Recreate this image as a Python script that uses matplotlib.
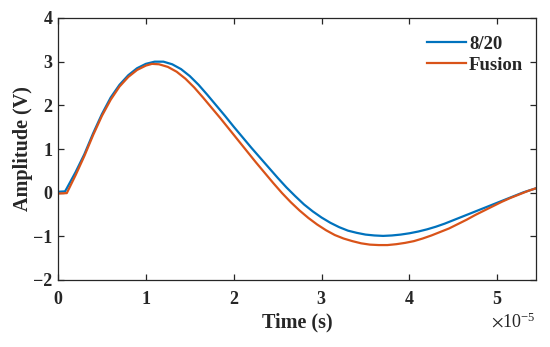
import matplotlib
matplotlib.use("Agg")
import matplotlib.pyplot as plt
import numpy as np
from matplotlib.ticker import ScalarFormatter

# time in units of 1e-5 s (converted to seconds below)
t_820 = [0, 0.08, 0.1, 0.2, 0.3, 0.4, 0.5, 0.6, 0.7, 0.8, 0.9, 1.0, 1.1, 1.2, 1.3, 1.4, 1.5,
         1.6, 1.7, 1.8, 1.9, 2.0, 2.1, 2.2, 2.3, 2.4, 2.5, 2.6, 2.7, 2.8, 2.9, 3.0, 3.1, 3.2,
         3.3, 3.4, 3.5, 3.6, 3.7, 3.8, 3.9, 4.0, 4.1, 4.2, 4.3, 4.4, 4.5, 4.6, 4.7, 4.8, 4.9,
         5.0, 5.1, 5.2, 5.3, 5.44]
v_820 = [0.02, 0.03, 0.10, 0.47, 0.88, 1.36, 1.80, 2.18, 2.47, 2.69, 2.85, 2.95, 3.00, 3.00,
         2.94, 2.83, 2.67, 2.47, 2.24, 2.00, 1.76, 1.51, 1.27, 1.03, 0.80, 0.57, 0.34, 0.12,
         -0.08, -0.27, -0.43, -0.57, -0.69, -0.79, -0.87, -0.92, -0.96, -0.98, -0.99, -0.98,
         -0.96, -0.93, -0.89, -0.84, -0.78, -0.71, -0.63, -0.55, -0.47, -0.39, -0.31, -0.23,
         -0.15, -0.07, 0.01, 0.10]

t_fus = [0, 0.1, 0.2, 0.3, 0.4, 0.5, 0.6, 0.7, 0.8, 0.9, 1.0, 1.07, 1.15, 1.25, 1.35, 1.45,
         1.55, 1.65, 1.75, 1.85, 1.95, 2.05, 2.15, 2.25, 2.35, 2.45, 2.55, 2.65, 2.75, 2.85,
         2.95, 3.05, 3.15, 3.25, 3.35, 3.45, 3.55, 3.65, 3.75, 3.85, 3.95, 4.05, 4.15, 4.25,
         4.35, 4.45, 4.55, 4.65, 4.75, 4.85, 4.95, 5.05, 5.15, 5.25, 5.35, 5.44]
v_fus = [-0.02, -0.01, 0.40, 0.84, 1.32, 1.76, 2.13, 2.43, 2.65, 2.81, 2.91, 2.95, 2.94, 2.88,
         2.77, 2.61, 2.41, 2.18, 1.94, 1.70, 1.45, 1.20, 0.95, 0.70, 0.46, 0.22, -0.01, -0.22,
         -0.41, -0.58, -0.73, -0.86, -0.97, -1.05, -1.11, -1.16, -1.19, -1.20, -1.20, -1.18,
         -1.15, -1.11, -1.05, -0.98, -0.90, -0.82, -0.72, -0.62, -0.51, -0.41, -0.31, -0.21,
         -0.12, -0.04, 0.04, 0.10]

labels = ["8/20", "Fusion"]
colors = ["#0072BD", "#D95319"]

plt.rcParams['font.family'] = ['Liberation Serif', 'DejaVu Serif']
plt.rcParams['mathtext.fontset'] = 'stix'

fig = plt.figure(figsize=(5.5, 3.47), dpi=100)
ax = fig.add_axes([58/550, 67/347, 478/550, 262/347])

ax.plot(np.array(t_820) * 1e-5, v_820, color=colors[0], lw=1.6, label=labels[0])
ax.plot(np.array(t_fus) * 1e-5, v_fus, color=colors[1], lw=1.6, label=labels[1])

ax.set_xlim(0, 5.44e-5)
ax.set_ylim(-2, 4)
ax.set_xticks(np.arange(0, 6) * 1e-5)
ax.set_yticks(np.arange(-2, 5))

fmt = ScalarFormatter(useMathText=True)
fmt.set_powerlimits((-3, 3))
ax.xaxis.set_major_formatter(fmt)

axcol = "#262626"
for s in ax.spines.values():
    s.set_color(axcol)
    s.set_linewidth(0.9)
ax.tick_params(direction='in', top=True, right=True, length=4, width=0.9, color=axcol,
               labelsize=13, labelcolor=axcol)
ax.tick_params(axis='x', pad=8)
ax.tick_params(axis='y', pad=4)
for lab in ax.get_xticklabels() + ax.get_yticklabels():
    lab.set_fontweight('bold')

ot = ax.xaxis.get_offset_text()
ot.set_fontsize(13)
ot.set_color(axcol)

ax.set_xlabel("Time (s)", fontsize=14.5, fontweight='bold', color=axcol, labelpad=3)
ax.set_ylabel("Amplitude (V)", fontsize=14.5, fontweight='bold', color=axcol, labelpad=0)

leg = ax.legend(loc='upper right', bbox_to_anchor=(1 + 5/478, 1.0), frameon=False,
                handlelength=2.1, handletextpad=0.15,
                prop={'weight': 'bold', 'size': 13.5}, borderaxespad=0.55, labelspacing=0.2)
for txt in leg.get_texts():
    txt.set_color(axcol)

fig.savefig("out.png", dpi=100)
